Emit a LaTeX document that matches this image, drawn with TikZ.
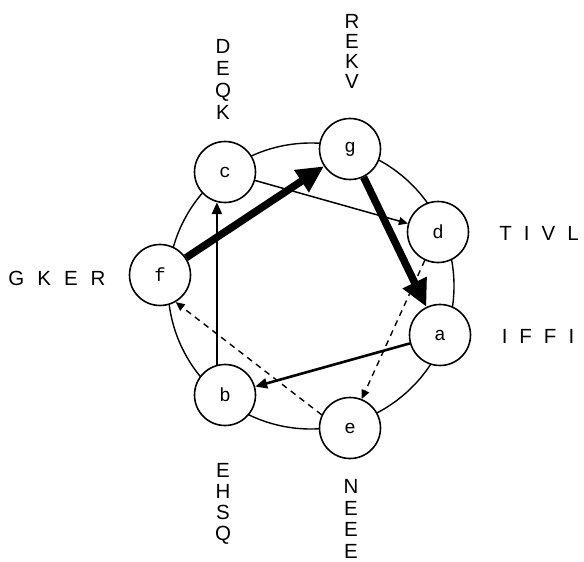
\documentclass[tikz,border=0pt]{standalone}
\usepackage{fontspec}
\setmainfont{Liberation Sans}
\newfontfamily\monof{Liberation Mono}
\usetikzlibrary{arrows.meta}
\begin{document}
\begin{tikzpicture}[x=1pt,y=-1pt,
  res/.style={circle,draw,line width=1.6pt,fill=white,minimum size=61pt,inner sep=0pt,font=\monof\fontsize{19}{19}\selectfont},
  lab/.style={font=\fontsize{20.5}{22}\selectfont,align=center,inner sep=0pt},
  heavy/.style={line width=7.5pt,-{Triangle[length=27pt,width=25pt]}},
  medarrow/.style={line width=2.6pt,-{Triangle[length=12pt,width=10pt]}},
  thinarrow/.style={line width=1.5pt,-{Triangle[length=9pt,width=8pt]}},
  dasharrow/.style={line width=1.4pt,dash pattern=on 6pt off 5pt,-{Triangle[length=9pt,width=8pt]}}
]
\useasboundingbox (0,0) rectangle (584,562);
\draw[line width=1.4pt] (311,286) circle[radius=143];
\node[res] (g) at (350,149) {g};
\node[res] (c) at (225,172) {c};
\node[res] (d) at (438,232) {d};
\node[res] (f) at (160,275) {f};
\node[res] (a) at (440,335) {a};
\node[res] (b) at (225,395) {b};
\node[res] (e) at (350,428) {e};
\draw[heavy] (f) -- (g);
\draw[heavy] (g) -- (a);
\draw[thinarrow] (c) -- (d);
\draw[medarrow] (b.105) -- (c.255);
\draw[medarrow] (a) -- (b);
\draw[dasharrow] (d.245) -- (e.68);
\draw[dasharrow] (e.155) -- (f.300);
\node[lab,font=\fontsize{20.5}{22}\selectfont] (lc) at (223,79) {D\\E\\Q\\K};
\node[lab,font=\fontsize{20.5}{20}\selectfont] (lg) at (352,51) {R\\E\\K\\V};
\node[lab,font=\fontsize{20.5}{21}\selectfont] (lb) at (223,504) {E\\H\\S\\Q};
\node[lab,font=\fontsize{20.5}{21.5}\selectfont] (le) at (351,519) {N\\E\\E\\E};
\node[lab] (lf) at (57,278) {G\hskip13pt K\hskip13pt E\hskip13pt R};
\node[lab] (ld) at (539,233) {T\hskip12pt I\hskip12pt V\hskip12pt L};
\node[lab] (la) at (538,336) {I\hskip12pt F\hskip12pt F\hskip12pt I};
\end{tikzpicture}
\end{document}
